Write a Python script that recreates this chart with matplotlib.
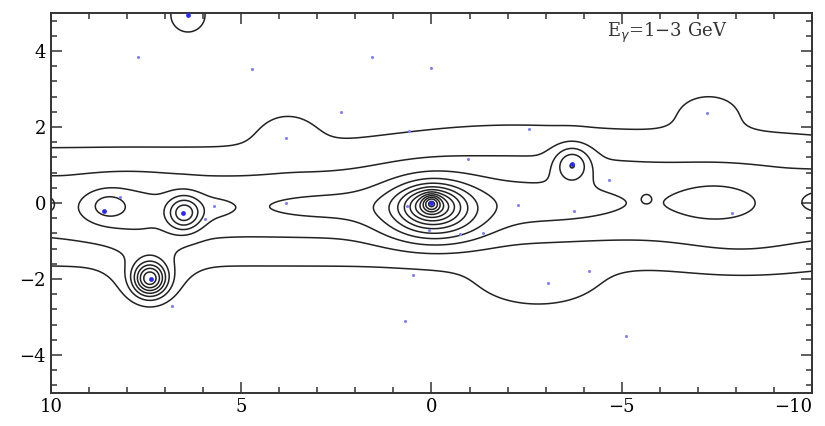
import numpy as np
import matplotlib
matplotlib.use("Agg")
import matplotlib.pyplot as plt
from matplotlib.ticker import MultipleLocator

# ---- diffuse emission components: centre (l, b), amplitude, widths in l and b
diff_l = [0.0, -2.0, 3.8, -7.3, -2.8, 8.0, 2.8, -2.9, -7.5, -10.2, 10.15, -8.5, -8.2, 5.7, -0.2]
diff_b = [-0.1, 1.3, 1.9, 2.5, -2.2, -0.2, -0.1, -0.05, 0.05, 0.07, 0.0, 1.5, -1.4, -0.15, -0.7]
diff_amp = [2.5, 0.7, 0.9, 1.05, 1.2, 0.9, 0.7, 0.65, 0.85, 0.7, 0.6, 0.45, 0.45, 0.5, 0.6]
diff_sl = [100.0, 3.0, 0.6, 0.7, 1.2, 1.0, 1.6, 1.7, 0.9, 0.5, 0.25, 2.5, 1.5, 0.45, 1.0]
diff_sb = [1.15, 1.1, 0.45, 0.4, 0.5, 0.6, 0.32, 0.45, 0.45, 0.35, 0.3, 0.6, 0.5, 0.3, 0.35]

# ---- point-like sources (several entries build up the brighter profiles)
src_l = [0.0, 0.0, -0.05, 7.4, 7.4, 6.5, 8.5, -3.7, -5.65, 6.4]
src_b = [0.0, -0.05, -0.2, -2.0, -1.9, -0.27, -0.07, 1.03, 0.12, 4.95]
src_amp = [3.0, 4.0, 3.5, 6.0, 1.2, 3.9, 1.4, 2.8, 0.3, 1.88]
src_sl = [0.15, 0.5, 0.9, 0.3, 0.65, 0.31, 0.35, 0.33, 0.08, 0.4]
src_sb = [0.15, 0.32, 0.55, 0.3, 0.65, 0.31, 0.25, 0.33, 0.08, 0.4]

levels = list(range(1, 15))

# ---- catalogue positions (blue dots)
dot_l = [7.72, 4.71, 1.56, 2.38, 3.83, 0.59, 8.19, 5.71, 5.95, 3.83, 0.64,
         0.0, -2.56, -7.24, -0.96, -4.66, -2.27, -3.74, -7.9, 6.83, 0.70,
         0.48, 0.07, -0.76, -1.35, -3.07, -4.14, -5.11]
dot_b = [3.85, 3.53, 3.85, 2.40, 1.72, 1.90, 0.15, -0.07, -0.42, 0.0, -0.07,
         3.55, 1.94, 2.36, 1.15, 0.6, -0.05, -0.2, -0.27, -2.7, -3.1,
         -1.9, -0.71, -0.82, -0.8, -2.1, -1.78, -3.5]
bright_l = [0.0, 7.38, 6.53, -3.69, 8.6, 6.4]
bright_b = [0.0, -2.0, -0.26, 1.03, -0.2, 4.95]

l = np.arange(-10.5, 10.5001, 0.025)
b = np.arange(-5.5, 5.5001, 0.025)
L, B = np.meshgrid(l, b)
flux = np.zeros_like(L)
for l0, b0, a, sl, sb in zip(diff_l + src_l, diff_b + src_b, diff_amp + src_amp,
                             diff_sl + src_sl, diff_sb + src_sb):
    flux += a * np.exp(-0.5 * (((L - l0) / sl) ** 2 + ((B - b0) / sb) ** 2))

plt.rcParams["font.family"] = ["DejaVu Serif"]
fig = plt.figure(figsize=(8.25, 4.26), dpi=100)
ax = fig.add_axes([0.0618, 0.0775, 0.9224, 0.892])

ax.contour(L, B, flux, levels=levels, colors="#222222", linewidths=1.1)
ax.scatter(dot_l, dot_b, s=5, color="#8080ff", linewidths=0, zorder=3)
ax.scatter(bright_l, bright_b, s=12, color="#2a2aff", linewidths=0, zorder=3)

ax.set_xlim(10, -10)
ax.set_ylim(-5, 5)
ax.xaxis.set_major_locator(MultipleLocator(5))
ax.xaxis.set_minor_locator(MultipleLocator(1))
ax.yaxis.set_major_locator(MultipleLocator(2))
ax.yaxis.set_minor_locator(MultipleLocator(0.4))
ax.tick_params(which="both", direction="in", top=True, right=True,
               color="#333333", labelsize=13, width=1.1)
ax.tick_params(which="major", length=8)
ax.tick_params(which="minor", length=4)
fmt = plt.FuncFormatter(lambda v, p: f"{v:g}".replace("-", "\u2212"))
ax.xaxis.set_major_formatter(fmt)
ax.yaxis.set_major_formatter(fmt)
for sp in ax.spines.values():
    sp.set_linewidth(1.4)
    sp.set_color("#333333")

ax.text(0.73, 0.947, "E$_\\gamma$=1\u22123 GeV", transform=ax.transAxes,
        ha="left", va="center", fontsize=13, color="#333333")

# the -10 label sits flush with the right edge of the figure
fig.canvas.draw()
for lab in ax.get_xticklabels():
    if lab.get_text() == "\u221210":
        lab.set_horizontalalignment("right")

fig.savefig("out.png", dpi=100)
